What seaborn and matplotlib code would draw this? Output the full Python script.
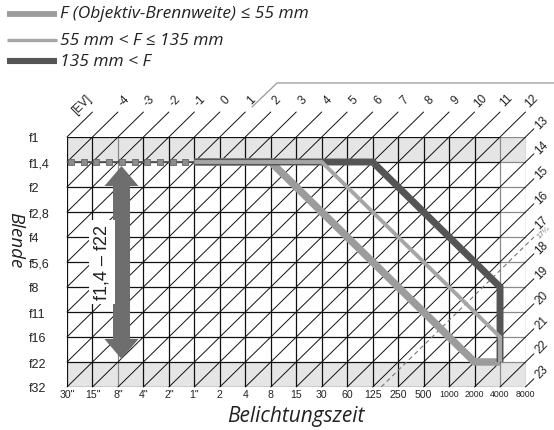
import matplotlib
matplotlib.use("Agg")
import matplotlib.pyplot as plt
from matplotlib.lines import Line2D
from matplotlib.patches import Polygon
import pandas as pd
import seaborn as sns

sns.set_theme(style="white")
plt.rcParams['font.family'] = ['Liberation Sans', 'DejaVu Sans']

# ---- data -------------------------------------------------------------
shutter_labels = ['30"', '15"', '8"', '4"', '2"', '1"', '2', '4', '8', '15', '30',
                  '60', '125', '250', '500', '1000', '2000', '4000', '8000']
aperture_labels = ['f1', 'f1,4', 'f2', 'f2,8', 'f4', 'f5,6', 'f8', 'f11', 'f16',
                   'f22', 'f32']
ev_first, ev_last = -5, 23          # EV at f1 / 30"  ...  f32 / 8000
ev_dashed = 17 + 1 / 3
ev_dashed_label = '17⅓'
gray_columns = ['8"', '4000', '8000']

# exposure programme lines: (shutter step, aperture step)
short_shutter = [5, 8, 16, 17]
short_aperture = [1, 1, 9, 9]
medium_shutter = [5, 10, 17, 17]
medium_aperture = [1, 1, 8, 9]
long_shutter = [5, 12, 17, 17]
long_aperture = [1, 1, 6, 9]
slow_shutter = [0, 5]
slow_aperture = [1, 1]
slow_marks = [0.15, 0.65, 1.15, 1.65, 2.15, 2.65, 3.15, 3.65, 4.15, 4.65]

legend_labels = ['F (Objektiv-Brennweite) ≤ 55 mm', '55 mm < F ≤ 135 mm', '135 mm < F']
range_label = 'f1,4 – f22'
range_from, range_to = 'f1,4', 'f22'
range_column = 2.14

c_short, c_medium, c_long = '#9c9c9c', '#a6a6a6', '#555555'
label_font = ['Open Sans', 'DejaVu Sans']

# ---- figure -----------------------------------------------------------
W, H = 554, 431
fig = plt.figure(figsize=(W / 100, H / 100), dpi=100)
ax = fig.add_axes([67 / W, 43 / H, 458.5 / W, 250 / H])
ncol = len(shutter_labels) - 1
nrow = len(aperture_labels) - 1
ax.set_xlim(0, ncol)
ax.set_ylim(nrow, 0)
for s in ax.spines.values():
    s.set_visible(False)
ax.set_facecolor('none')

# shaded first and last aperture rows
ax.axhspan(0, 1, color='#e5e5e5', zorder=0, lw=0)
ax.axhspan(nrow - 1, nrow, color='#e5e5e5', zorder=0, lw=0)

# grid
for i, lab in enumerate(shutter_labels):
    col = '#8a8a8a' if lab in gray_columns else '#111111'
    ax.vlines(i, 0, nrow, color=col, lw=0.9, zorder=1)
for j in range(nrow + 1):
    ax.hlines(j, 0, ncol - 1, color='#111111', lw=0.9, zorder=1)
    ax.hlines(j, ncol - 1, ncol, color='#8a8a8a', lw=0.9, zorder=1)

# constant-EV diagonals with their labels
ext = 0.33
for ev in range(ev_first, ev_last + 1):
    s = ev - ev_first
    x0, y0 = (0, s) if s <= nrow else (s - nrow, nrow)
    if s + 1 <= ncol:
        x1, y1 = s + 1, -1
        lx, ly = x1 + 0.24, y1 - 0.48
    else:
        x1, y1 = ncol + ext, s - ncol - ext
        lx, ly = x1 + 0.31, y1 - 0.28
    ax.plot([x0, x1], [y0, y1], color='#111111', lw=0.7, zorder=1, clip_on=False)
    txt = '[EV]' if ev == ev_first else str(ev)
    if ev == ev_first:
        lx, ly = x1 - 0.43, y1 - 0.32
    ax.text(lx, ly, txt, rotation=45, ha='center', va='center', fontsize=8.5,
            color='#222222', clip_on=False)

s = ev_dashed - ev_first
ax.plot([s - nrow, ncol + ext], [nrow, s - ncol - ext], color='#777777', lw=0.8,
        ls=(0, (4, 3)), zorder=1, clip_on=False)
ax.text(ncol + ext + 0.38, s - ncol - ext - 0.2, ev_dashed_label, rotation=45,
        ha='center', va='center', fontsize=5.5, color='#777777', clip_on=False)

# programme lines
line_kw = dict(sort=False, estimator=None, legend=False, ax=ax)
sns.lineplot(x=slow_shutter, y=slow_aperture, color='#555555', linewidth=1.3,
             zorder=3, **line_kw)
sns.scatterplot(x=slow_marks, y=[slow_aperture[0]] * len(slow_marks), marker='s',
                s=25, color='#8c8c8c', edgecolor='#666666', linewidth=0.6,
                zorder=4, legend=False, ax=ax)
sns.lineplot(x=short_shutter, y=short_aperture, color=c_short, linewidth=5.4,
             zorder=3, solid_joinstyle='miter', solid_capstyle='butt', **line_kw)
sns.lineplot(x=long_shutter, y=long_aperture, color=c_long, linewidth=5.0,
             zorder=4, solid_joinstyle='miter', solid_capstyle='butt', **line_kw)
sns.lineplot(x=medium_shutter, y=medium_aperture, color=c_medium, linewidth=2.8,
             zorder=5, solid_joinstyle='miter', solid_capstyle='butt', **line_kw)
ax.set_xlim(0, ncol)
ax.set_ylim(nrow, 0)

# aperture range arrow
ya = aperture_labels.index(range_from) + 0.16
yb = aperture_labels.index(range_to) - 0.12
hs, hh, hl = 0.334, 0.667, 0.8
xc = range_column
arrow = Polygon([(xc, ya), (xc + hh, ya + hl), (xc + hs, ya + hl), (xc + hs, yb - hl),
                 (xc + hh, yb - hl), (xc, yb), (xc - hh, yb - hl), (xc - hs, yb - hl),
                 (xc - hs, ya + hl), (xc - hh, ya + hl)],
                closed=True, facecolor='#6e6e6e', edgecolor='none', zorder=6)
ax.add_patch(arrow)
ax.text(xc - 0.77, (ya + yb) / 2 - 0.02, range_label, rotation=90, ha='center',
        va='center', fontsize=13, color='#222222', zorder=7,
        bbox=dict(boxstyle='square,pad=0.25', facecolor='white', edgecolor='none'))

# ticks
ax.set_xticks(range(len(shutter_labels)))
ax.set_xticklabels(shutter_labels)
ax.set_yticks(range(len(aperture_labels)))
ax.set_yticklabels(aperture_labels)
ax.tick_params(axis='x', length=0, pad=1.5, labelsize=7.6, colors='#222222')
ax.tick_params(axis='y', length=0, pad=27.4, labelsize=9, colors='#222222')
for lab in ax.get_xticklabels():
    lab.set_family(['Liberation Sans Narrow', 'Liberation Sans'])
    if len(lab.get_text()) >= 4:
        lab.set_fontsize(6.3)
for lab in ax.get_yticklabels():
    lab.set_ha('left')

# axis titles
ax.set_xlabel('Belichtungszeit', fontsize=15, style='italic', family=label_font,
              color='#222222')
ax.xaxis.set_label_coords(0.5, -0.136)
ax.xaxis.label.set_va('baseline')
ax.set_ylabel('Blende', fontsize=13.5, style='italic', family=label_font,
              color='#222222', rotation=-90, rotation_mode='anchor',
              ha='center', va='center')
ax.yaxis.set_label_coords(-0.113, 0.592)

# legend
legend_styles = [(c_short, 4.2, 14.5), (c_medium, 2.4, 41), (c_long, 4.4, 62)]
for text, (col, lw, y) in zip(legend_labels, legend_styles):
    fig.add_artist(Line2D([7 / W, 57 / W], [1 - y / H] * 2, color=col, lw=lw,
                          solid_capstyle='butt', transform=fig.transFigure))
    fig.text(60 / W, 1 - y / H, text, va='center', ha='left', fontsize=12.5,
             style='italic', family=label_font, color='#222222')

# frame rule at the top right
fig.add_artist(Line2D([252 / W, 277 / W, 1.0], [1 - 108 / H, 1 - 84 / H, 1 - 84 / H],
                      color='#9a9a9a', lw=0.9, transform=fig.transFigure))

fig.savefig('out.png', dpi=100, facecolor='white')
